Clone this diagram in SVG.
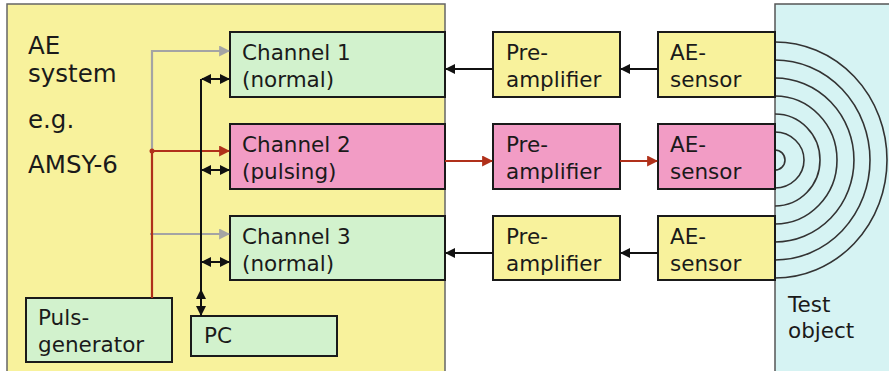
<svg xmlns="http://www.w3.org/2000/svg" width="889" height="371" viewBox="0 0 889 371">
<style>
text{font-family:"DejaVu Sans","Verdana",sans-serif;font-size:21.5px;fill:#1a1a1a}
.big{font-size:24.5px}
.box{stroke:#1a1a1a;stroke-width:2}
.g{fill:#d2f2cd}.y{fill:#f8f29c}.p{fill:#f29cc5}
.bk{stroke:#111;stroke-width:2;fill:none}
.rd{stroke:#b0301a;stroke-width:2.2;fill:none}
.gy{stroke:#a4a4a4;stroke-width:2.2;fill:none}
.arc{stroke:#333;stroke-width:1.6;fill:none}
</style>
<defs>
<marker id="ab" viewBox="0 0 10 10" refX="9" refY="5" markerWidth="5" markerHeight="5" orient="auto-start-reverse"><path d="M0,0 L10,5 L0,10 z" fill="#111"/></marker>
<marker id="ar" viewBox="0 0 10 10" refX="9" refY="5" markerWidth="5" markerHeight="5" orient="auto"><path d="M0,0 L10,5 L0,10 z" fill="#b0301a"/></marker>
<marker id="ag" viewBox="0 0 10 10" refX="9" refY="5" markerWidth="5" markerHeight="5" orient="auto"><path d="M0,0 L10,5 L0,10 z" fill="#a4a4a4"/></marker>
</defs>
<rect width="889" height="371" fill="#fff"/>
<g id="system">
<rect x="7" y="4" width="438" height="370" fill="#f8f29c" stroke="#666" stroke-width="1.5"/>
<text class="big" x="28" y="54">AE</text>
<text class="big" x="28" y="82">system</text>
<text class="big" x="28" y="128">e.g.</text>
<text class="big" x="28" y="173">AMSY-6</text>
</g>
<g id="testobject">
<rect x="775" y="4" width="120" height="370" fill="#d6f3f3" stroke="#555" stroke-width="1.5"/>
<g class="arc">
<path d="M775,150 A10,10 0 0 1 775,170"/>
<path d="M775,132 A29,28 0 0 1 775,188"/>
<path d="M775,114 A45,46 0 0 1 775,206"/>
<path d="M775,96 A62,64 0 0 1 775,224"/>
<path d="M775,78 A79,82 0 0 1 775,242"/>
<path d="M775,60 A95,100 0 0 1 775,260"/>
<path d="M775,42 A112,118 0 0 1 775,278"/>
</g>
<text x="788" y="312">Test</text>
<text x="788" y="338">object</text>
</g>
<g id="ch1"><rect class="box g" x="230" y="32" width="215" height="65"/><text x="242" y="60">Channel 1</text><text x="242" y="87">(normal)</text></g>
<g id="ch2"><rect class="box p" x="230" y="124" width="215" height="65"/><text x="242" y="152">Channel 2</text><text x="242" y="179">(pulsing)</text></g>
<g id="ch3"><rect class="box g" x="230" y="216" width="215" height="64"/><text x="242" y="244">Channel 3</text><text x="242" y="271">(normal)</text></g>
<g id="pulsgen"><rect class="box g" x="26" y="298" width="146" height="64"/><text x="38" y="325">Puls-</text><text x="38" y="352">generator</text></g>
<g id="pc"><rect class="box g" x="191" y="316" width="146" height="40"/><text x="204" y="343">PC</text></g>
<g id="pre1"><rect class="box y" x="493" y="32" width="127" height="65"/><text x="506" y="60">Pre-</text><text x="506" y="87">amplifier</text></g>
<g id="pre2"><rect class="box p" x="493" y="124" width="127" height="65"/><text x="506" y="152">Pre-</text><text x="506" y="179">amplifier</text></g>
<g id="pre3"><rect class="box y" x="493" y="216" width="127" height="64"/><text x="506" y="244">Pre-</text><text x="506" y="271">amplifier</text></g>
<g id="sen1"><rect class="box y" x="658" y="32" width="117" height="65"/><text x="670" y="60">AE-</text><text x="670" y="87">sensor</text></g>
<g id="sen2"><rect class="box p" x="658" y="124" width="117" height="65"/><text x="670" y="152">AE-</text><text x="670" y="179">sensor</text></g>
<g id="sen3"><rect class="box y" x="658" y="216" width="117" height="64"/><text x="670" y="244">AE-</text><text x="670" y="271">sensor</text></g>
<g id="connectors">
<path class="gy" d="M152,151 V51 H229" marker-end="url(#ag)"/>
<path class="gy" d="M150,234 H229" marker-end="url(#ag)"/>
<path class="rd" d="M152,298 V151 H229" marker-end="url(#ar)"/>
<circle cx="152" cy="151" r="2.5" fill="#b0301a"/>
<path class="bk" d="M201,79 V316"/>
<path class="bk" d="M202,79 H229" marker-start="url(#ab)" marker-end="url(#ab)"/>
<path class="bk" d="M202,170 H229" marker-start="url(#ab)" marker-end="url(#ab)"/>
<path class="bk" d="M202,262 H229" marker-start="url(#ab)" marker-end="url(#ab)"/>
<path class="bk" d="M201,290 V315" marker-start="url(#ab)" marker-end="url(#ab)"/>
<path class="bk" d="M493,69 H446" marker-end="url(#ab)"/>
<path class="bk" d="M658,69 H621" marker-end="url(#ab)"/>
<path class="rd" d="M445,161 H492" marker-end="url(#ar)"/>
<path class="rd" d="M620,161 H657" marker-end="url(#ar)"/>
<path class="bk" d="M493,253 H446" marker-end="url(#ab)"/>
<path class="bk" d="M658,253 H621" marker-end="url(#ab)"/>
</g>
</svg>
